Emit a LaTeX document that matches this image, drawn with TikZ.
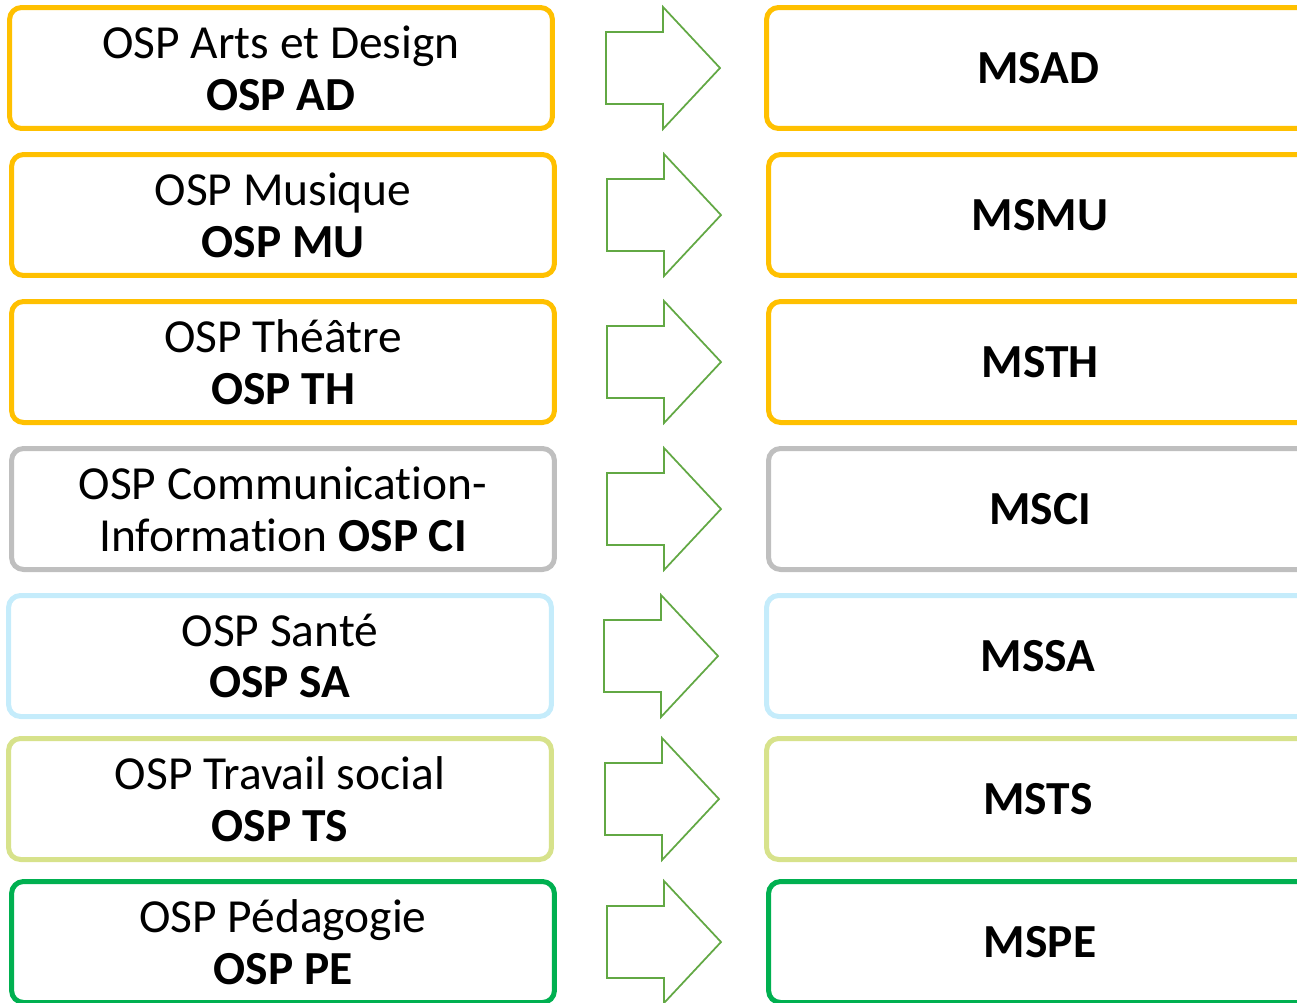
\documentclass[tikz,border=0pt]{standalone}
\usepackage{fontspec}
\setmainfont{Carlito}[Ligatures=NoCommon,Contextuals=NoAlternate]

\definecolor{ospyellow}{HTML}{FFC000}
\definecolor{ospgrey}{HTML}{BFBFBF}
\definecolor{ospblue}{HTML}{C5ECFB}
\definecolor{osplime}{HTML}{D7E28B}
\definecolor{ospgreen}{HTML}{00B050}
\definecolor{arrowgreen}{HTML}{62A844}

\tikzset{
  ospbox/.style={draw=#1, line width=0.1cm, rounded corners=0.24cm,
    minimum width=10.86cm, minimum height=2.42cm, inner sep=0pt,
    align=center, font=\fontsize{27}{29.5}\selectfont},
  bigarrow/.style={draw=arrowgreen, line width=0.035cm, line join=miter},
}

\begin{document}
\begin{tikzpicture}[x=0.02cm,y=-0.02cm]
  \useasboundingbox (0,0) rectangle (1297,1002);
  % rows: centre y / left box x / arrow x / right box x / colour / texts
  \foreach \n/\y/\lx/\ax/\rx/\col/\ltext/\rtext in {
      1/68/281/606/1038/ospyellow/{OSP Arts et Design\\\textbf{OSP AD}}/MSAD,
      2/215/283/607/1040/ospyellow/{OSP Musique\\\textbf{OSP MU}}/MSMU,
      3/362/283/607/1040/ospyellow/{OSP Théâtre\\\textbf{OSP TH}}/MSTH,
      4/509/283/607/1040/ospgrey/{OSP Communication-\\Information \textbf{OSP CI}}/MSCI,
      5/656/280/604/1038/ospblue/{OSP Santé\\\textbf{OSP SA}}/MSSA,
      6/799/280/605/1038/osplime/{OSP Travail social\\\textbf{OSP TS}}/MSTS,
      7/942/283/607/1040/ospgreen/{OSP Pédagogie\\\textbf{OSP PE}}/MSPE}
  {
    \node[ospbox=\col] (osp\n) at (\lx,\y) {\ltext};
    \node[ospbox=\col] (ms\n) at (\rx,\y) {\textbf{\rtext}};
    % block arrow
    \draw[bigarrow] (\ax,\y-36) -- ++(57,0) -- ++(0,-25) -- ++(57,61)
      -- ++(-57,61) -- ++(0,-25) -- ++(-57,0) -- cycle;
  }
\end{tikzpicture}
\end{document}
